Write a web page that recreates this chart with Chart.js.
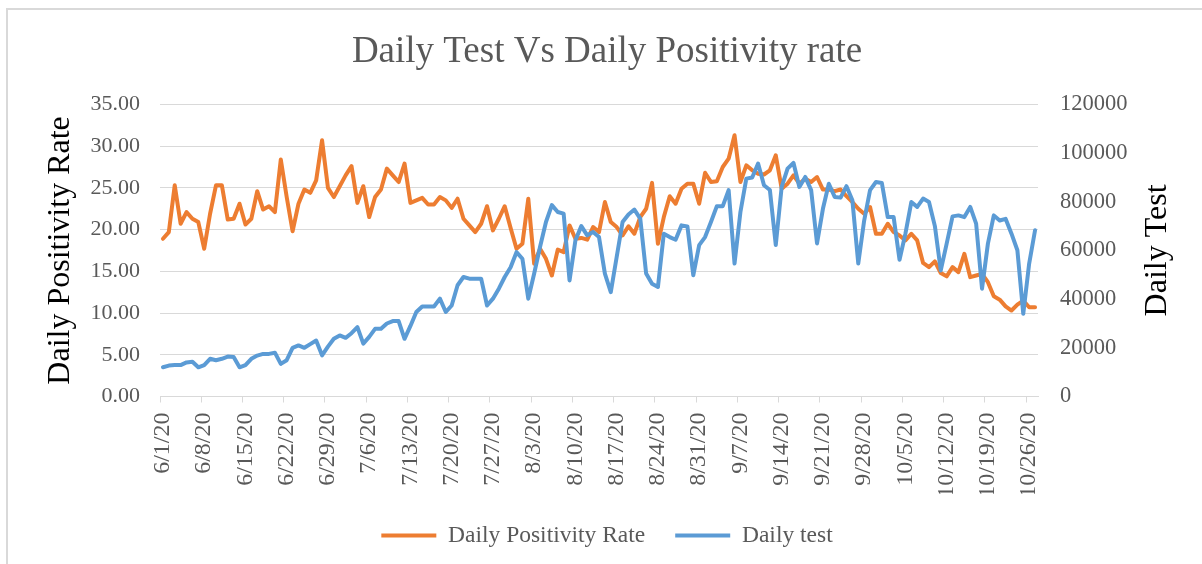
<!DOCTYPE html>
<html>
<head>
<meta charset="utf-8">
<script src="https://cdn.jsdelivr.net/npm/chart.js@4/dist/chart.umd.min.js"></script>
<style>
html,body{margin:0;padding:0;background:#fff;}
#wrap{width:1202px;height:564px;position:relative;}
canvas{display:block;}
</style>
</head>
<body>
<div id="wrap"><canvas id="c" width="1202" height="564"></canvas></div>
<script>
const chartTitle = 'Daily Test Vs Daily Positivity rate';
const leftAxisTitle = 'Daily Positivity Rate';
const rightAxisTitle = 'Daily Test';
const seriesNames = ['Daily Positivity Rate', 'Daily test'];

const categories = [
'6/1/20','6/2/20','6/3/20','6/4/20','6/5/20','6/6/20','6/7/20','6/8/20','6/9/20','6/10/20',
'6/11/20','6/12/20','6/13/20','6/14/20','6/15/20','6/16/20','6/17/20','6/18/20','6/19/20','6/20/20',
'6/21/20','6/22/20','6/23/20','6/24/20','6/25/20','6/26/20','6/27/20','6/28/20','6/29/20','6/30/20',
'7/1/20','7/2/20','7/3/20','7/4/20','7/5/20','7/6/20','7/7/20','7/8/20','7/9/20','7/10/20',
'7/11/20','7/12/20','7/13/20','7/14/20','7/15/20','7/16/20','7/17/20','7/18/20','7/19/20','7/20/20',
'7/21/20','7/22/20','7/23/20','7/24/20','7/25/20','7/26/20','7/27/20','7/28/20','7/29/20','7/30/20',
'7/31/20','8/1/20','8/2/20','8/3/20','8/4/20','8/5/20','8/6/20','8/7/20','8/8/20','8/9/20',
'8/10/20','8/11/20','8/12/20','8/13/20','8/14/20','8/15/20','8/16/20','8/17/20','8/18/20','8/19/20',
'8/20/20','8/21/20','8/22/20','8/23/20','8/24/20','8/25/20','8/26/20','8/27/20','8/28/20','8/29/20',
'8/30/20','8/31/20','9/1/20','9/2/20','9/3/20','9/4/20','9/5/20','9/6/20','9/7/20','9/8/20',
'9/9/20','9/10/20','9/11/20','9/12/20','9/13/20','9/14/20','9/15/20','9/16/20','9/17/20','9/18/20',
'9/19/20','9/20/20','9/21/20','9/22/20','9/23/20','9/24/20','9/25/20','9/26/20','9/27/20','9/28/20',
'9/29/20','9/30/20','10/1/20','10/2/20','10/3/20','10/4/20','10/5/20','10/6/20','10/7/20','10/8/20',
'10/9/20','10/10/20','10/11/20','10/12/20','10/13/20','10/14/20','10/15/20','10/16/20','10/17/20','10/18/20',
'10/19/20','10/20/20','10/21/20','10/22/20','10/23/20','10/24/20','10/25/20','10/26/20','10/27/20'
];

const positivityRate = [
18.9,19.7,25.3,20.7,22.1,21.3,20.9,17.7,21.9,25.3,
25.3,21.2,21.3,23.1,20.6,21.3,24.6,22.4,22.8,22.1,
28.4,23.9,19.8,23.1,24.8,24.4,25.9,30.7,25.0,23.9,
25.2,26.5,27.6,23.2,25.2,21.5,23.9,24.8,27.3,26.5,
25.7,27.9,23.2,23.5,23.8,23.0,23.0,23.9,23.5,22.6,
23.7,21.3,20.5,19.7,20.7,22.8,19.9,21.3,22.8,20.2,
17.7,18.3,23.7,15.9,17.7,16.5,14.5,17.6,17.3,20.5,
18.9,19.0,18.8,20.3,19.7,23.3,20.9,20.3,19.3,20.4,
19.5,21.5,22.5,25.6,18.3,21.5,24.0,23.1,24.9,25.5,
25.5,23.1,26.8,25.7,25.8,27.5,28.5,31.3,25.7,27.7,
27.1,26.7,26.6,27.1,28.9,24.9,25.5,26.5,25.5,26.1,
25.7,26.3,24.8,24.8,24.6,24.8,24.0,23.3,22.5,21.9,
22.7,19.5,19.5,20.7,19.7,19.3,18.7,19.5,18.7,16.0,
15.5,16.2,14.8,14.4,15.5,14.9,17.1,14.3,14.5,14.7,
13.7,12.0,11.6,10.8,10.3,11.0,11.5,10.7,10.7
];

const dailyTests = [
12000,12700,12900,12900,14000,14300,12000,12900,15500,14900,
15500,16400,16200,12000,12900,15500,16800,17500,17500,18000,
13400,14900,20000,21000,20000,21500,23000,16900,20500,23700,
25100,24100,26000,28500,21700,24500,27800,27800,30000,31000,
31000,23700,29000,34700,37000,37000,37000,40200,34700,37400,
45700,49100,48400,48400,48400,37400,40200,44300,49100,53100,
59300,56600,40200,50500,61500,71700,78600,75800,75100,47700,
64200,70000,66200,67600,65500,50500,42900,57300,71700,74800,
76800,73100,50500,46300,45000,66900,65500,64400,70300,69900,
49800,62200,65500,71700,78200,78200,84800,54600,75800,89500,
90000,95700,86800,84800,62200,86100,93600,96000,86100,90200,
84800,62900,77100,87400,82000,81700,86400,80600,54600,72300,
84800,88100,87700,73700,73700,56200,66900,79900,77900,81300,
79900,70000,51800,62800,74000,74400,73700,77900,71000,44300,
62800,74400,72300,73000,66900,60100,34000,54600,68300
];

const leftTickStep = 5, leftMax = 35;
const rightTickStep = 20000, rightMax = 120000;
const labelEvery = 7;

const FONT = '"Liberation Serif", "Times New Roman", Times, serif';
const ORANGE = '#ED7D31';
const BLUE = '#5B9BD5';
const GRID = '#d9d9d9';
const TEXT = '#595959';

const frame = {
  id: 'frame',
  beforeDraw(chart) {
    const ctx = chart.ctx;
    ctx.save();
    ctx.fillStyle = '#ffffff';
    ctx.fillRect(0, 0, chart.width, chart.height);
    ctx.strokeStyle = GRID;
    ctx.lineWidth = 2;
    ctx.strokeRect(7, 9, chart.width + 50, chart.height + 50);
    ctx.restore();
  }
};

const rightTitle = {
  id: 'rightTitle',
  afterDraw(chart) {
    const ctx = chart.ctx;
    const a = chart.chartArea;
    ctx.save();
    ctx.translate(1158, (a.top + a.bottom) / 2);
    ctx.rotate(-Math.PI / 2);
    ctx.font = '32px ' + FONT;
    ctx.fillStyle = '#000000';
    ctx.textAlign = 'center';
    ctx.textBaseline = 'middle';
    ctx.fillText(rightAxisTitle, 0, 0);
    ctx.restore();
  }
};

new Chart(document.getElementById('c'), {
  type: 'line',
  data: {
    labels: categories,
    datasets: [
      {
        label: seriesNames[0], data: positivityRate, yAxisID: 'y',
        borderColor: ORANGE, backgroundColor: ORANGE, borderWidth: 4,
        pointRadius: 0, tension: 0, borderJoinStyle: 'round', borderCapStyle: 'round', order: 1
      },
      {
        label: seriesNames[1], data: dailyTests, yAxisID: 'y2',
        borderColor: BLUE, backgroundColor: BLUE, borderWidth: 4,
        pointRadius: 0, tension: 0, borderJoinStyle: 'round', borderCapStyle: 'round', order: 0
      }
    ]
  },
  options: {
    responsive: false,
    animation: false,
    devicePixelRatio: 1,
    layout: { padding: { top: 22, left: 12, right: 0, bottom: 6.75 } },
    plugins: {
      tooltip: { enabled: false },
      title: {
        display: true, text: chartTitle, color: TEXT,
        font: { family: FONT, size: 37, weight: 'normal' },
        padding: { top: 8, bottom: 30 }
      },
      legend: {
        position: 'bottom',
        labels: {
          usePointStyle: true, pointStyle: 'line', pointStyleWidth: 55,
          color: TEXT, font: { family: FONT, size: 23.5 }, padding: 30,
          sort: (a, b) => a.datasetIndex - b.datasetIndex
        }
      }
    },
    scales: {
      x: {
        type: 'category', offset: true,
        grid: {
          offset: true, drawOnChartArea: false, drawTicks: true, tickLength: 6,
          color: (c) => (c.index !== undefined && c.index % labelEvery === 0) ? GRID : 'rgba(0,0,0,0)'
        },
        border: { display: true, color: GRID, width: 1 },
        ticks: {
          autoSkip: false, maxRotation: 90, minRotation: 90, padding: 10,
          color: TEXT, font: { family: FONT, size: 24 },
          callback: (v, i) => (i % labelEvery === 0 ? categories[i] : '')
        },
        afterFit: (s) => { s.height = 97.25; }
      },
      y: {
        position: 'left', min: 0, max: leftMax,
        grid: { color: GRID, lineWidth: 1, drawTicks: false },
        border: { display: false },
        ticks: { stepSize: leftTickStep, padding: 20, color: TEXT, font: { family: FONT, size: 22 },
                 callback: (v) => Number(v).toFixed(2) },
        title: { display: true, text: leftAxisTitle, color: '#000000',
                 font: { family: FONT, size: 32 }, padding: { top: 29, bottom: 0 } },
        afterFit: (s) => { s.width = 148; }
      },
      y2: {
        position: 'right', min: 0, max: rightMax,
        grid: { drawOnChartArea: false, drawTicks: false },
        border: { display: false },
        ticks: { stepSize: rightTickStep, padding: 22, color: TEXT, font: { family: FONT, size: 22.5 },
                 callback: (v) => String(v) },
        afterFit: (s) => { s.width = 164; }
      }
    }
  },
  plugins: [frame, rightTitle]
});
</script>
</body>
</html>
